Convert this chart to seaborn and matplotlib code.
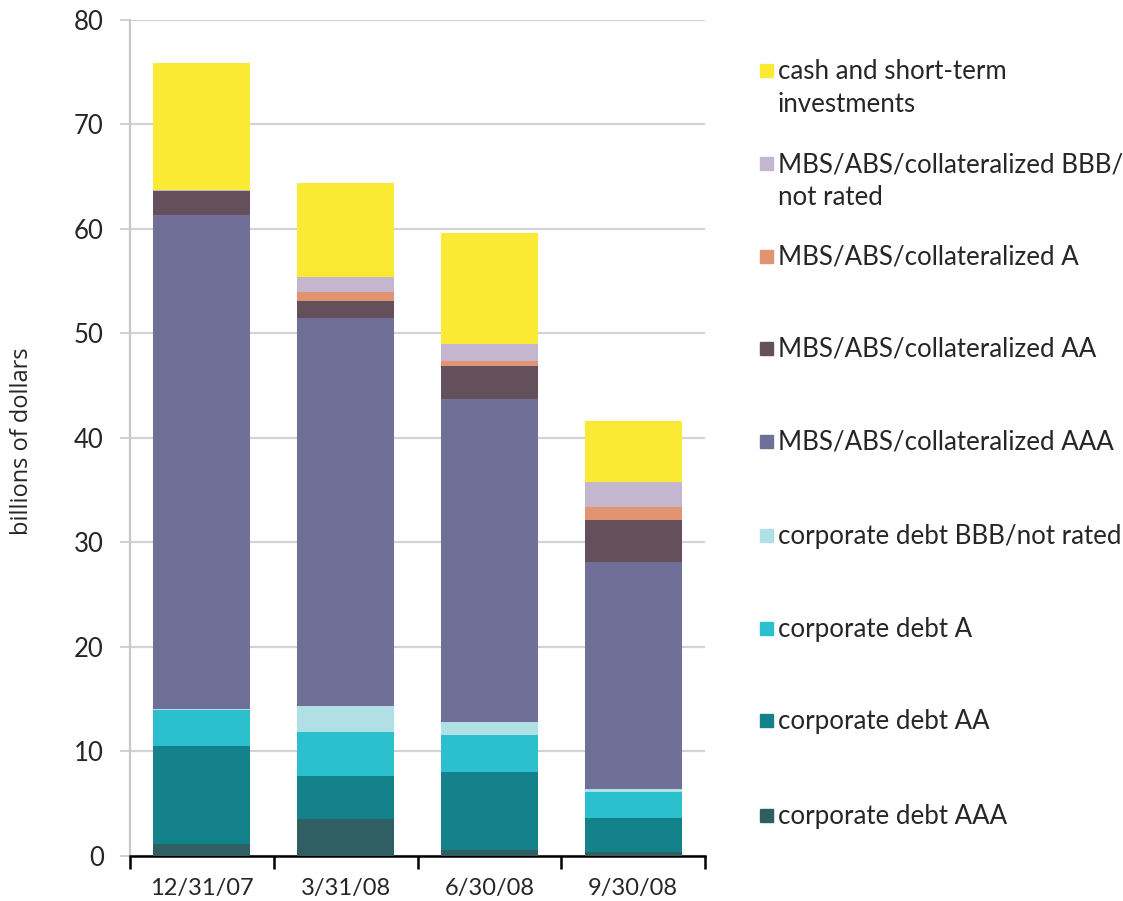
import numpy as np
import pandas as pd
import matplotlib
matplotlib.use("Agg")
import matplotlib.pyplot as plt
from matplotlib.patches import Rectangle
from matplotlib.ticker import FixedLocator
import seaborn as sns

# Quarter-end dates
dates = ["12/31/07", "3/31/08", "6/30/08", "9/30/08"]

# Holdings by category, billions of dollars (bottom of stack first)
corp_aaa = [1.1, 3.5, 0.6, 0.4]
corp_aa = [9.4, 4.15, 7.4, 3.2]
corp_a = [3.5, 4.25, 3.55, 2.5]
corp_bbb = [0.1, 2.45, 1.25, 0.3]
mbs_aaa = [47.2, 37.15, 30.95, 21.7]
mbs_aa = [2.3, 1.6, 3.15, 4.05]
mbs_a = [0.05, 0.9, 0.45, 1.2]
mbs_bbb = [0.1, 1.35, 1.65, 2.4]
cash = [12.1, 9.0, 10.6, 5.9]

series_names = [
    "corporate debt AAA",
    "corporate debt AA",
    "corporate debt A",
    "corporate debt BBB/not rated",
    "MBS/ABS/collateralized AAA",
    "MBS/ABS/collateralized AA",
    "MBS/ABS/collateralized A",
    "MBS/ABS/collateralized BBB/\nnot rated",
    "cash and short-term\ninvestments",
]
series_values = [corp_aaa, corp_aa, corp_a, corp_bbb, mbs_aaa,
                 mbs_aa, mbs_a, mbs_bbb, cash]
colors = ["#2F5F63", "#13828A", "#2AC0CE", "#B0E0E5", "#6F6F98",
          "#63505A", "#E29372", "#C4B6CF", "#FBEA33"]

sns.set_theme(style="white")
plt.rcParams["font.family"] = ["Lato", "DejaVu Sans"]

W, H = 1123.0, 901.0
fig = plt.figure(figsize=(W / 100, H / 100), dpi=100)
ax = fig.add_axes([0.1158, 0.05, 0.512, 0.928])

# Stack by overlaying cumulative totals, tallest first
cum = np.cumsum(np.array(series_values), axis=0)
for i in range(len(series_values) - 1, -1, -1):
    df = pd.DataFrame({"date": dates, "value": cum[i]})
    sns.barplot(data=df, x="date", y="value", color=colors[i],
                saturation=1, width=0.675, ax=ax, linewidth=0, zorder=3)

ax.set_xlim(-0.5, 3.5)
ax.set_ylim(0, 80)
ax.set_yticks(range(0, 81, 10))
ax.yaxis.grid(True, color="#d3d3d3", linewidth=1.6, zorder=0)
ax.xaxis.grid(False)

ax.set_xlabel("")
ax.set_ylabel("")
fig.text(22 / W, 1 - 441 / H, "billions of dollars", rotation=90,
         ha="center", va="center", fontsize=17,
         family=["Open Sans", "DejaVu Sans"])

for s in ["top", "right"]:
    ax.spines[s].set_visible(False)
ax.spines["left"].set_color("#c8c8c8")
ax.spines["left"].set_linewidth(1.6)
ax.spines["bottom"].set_color("black")
ax.spines["bottom"].set_linewidth(1.8)

ax.tick_params(axis="y", which="major", length=7, width=1.2, color="#c8c8c8",
               labelsize=18.5, pad=12, left=True)
ax.tick_params(axis="x", which="major", length=0, labelsize=17, pad=16)
ax.xaxis.set_minor_locator(FixedLocator([-0.5, 0.5, 1.5, 2.5, 3.5]))
ax.tick_params(axis="x", which="minor", length=9, width=1.8,
               color="black", bottom=True)

# Legend drawn as a column of swatches on the right
legend_y = [72, 165, 258, 350, 443, 537, 630, 722, 817]
for name, col, ypx in zip(series_names[::-1], colors[::-1], legend_y):
    fig.patches.append(Rectangle((760 / W, 1 - (ypx + 5) / H), 13 / W, 13 / H,
                                 transform=fig.transFigure, color=col,
                                 figure=fig))
    fig.text(778 / W, 1 - (ypx - 13) / H, name, fontsize=18.6, va="top",
             ha="left", linespacing=1.42)

fig.savefig("out.png", dpi=100)
